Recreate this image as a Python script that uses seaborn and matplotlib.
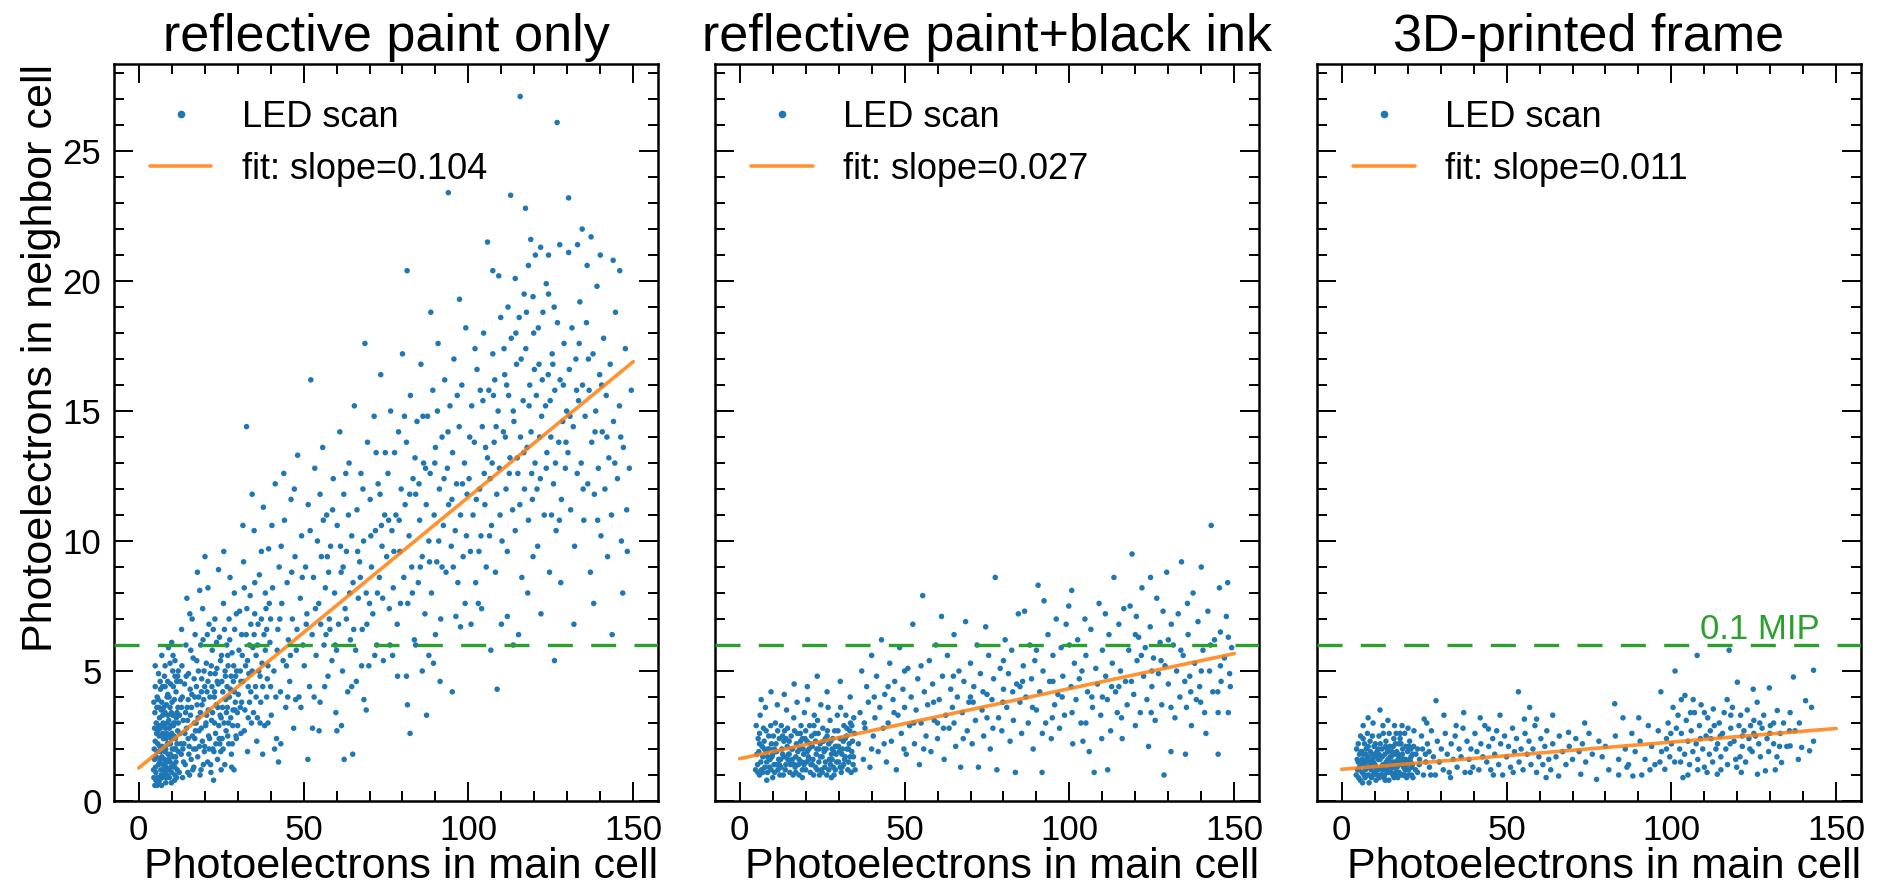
import matplotlib
matplotlib.use("Agg")
import matplotlib.pyplot as plt
import seaborn as sns
import pandas as pd
from matplotlib.lines import Line2D
from matplotlib.ticker import MultipleLocator

# ---------------- data ----------------
panel_titles = ["reflective paint only", "reflective paint+black ink", "3D-printed frame"]
fit_labels = ["fit: slope=0.104", "fit: slope=0.027", "fit: slope=0.011"]
fit_x = [0, 150]
fit_start = [1.27, 1.63, 1.22]
fit_end = [16.9, 5.67, 2.79]
mip_level = 6.0
mip_label = "0.1 MIP"
x_ticks = [0, 50, 100, 150]
y_ticks = [0, 5, 10, 15, 20, 25]
x_label = "Photoelectrons in main cell"
y_label = "Photoelectrons in neighbor cell"
scatter_label = "LED scan"

p1_points = [
    (4.6,0.9),(4.8,1.6),(5.0,2.3),(5.2,1.1),(5.3,3.0),(5.5,0.6),(5.6,1.9),(5.8,2.7),(6.0,1.4),(6.1,3.6),(6.3,0.8),(6.4,2.1),(6.6,4.3),(6.7,1.2),(6.9,2.9),(7.0,1.7),(7.2,0.9),(7.3,3.3),(7.5,2.4),(7.6,1.0),(7.8,4.8),(7.9,1.9),(8.1,2.8),(8.2,0.7),(8.4,3.7),(8.5,1.5),(8.7,2.2),(8.8,4.1),(9.0,1.2),(9.1,3.1),(9.3,0.9),(9.4,2.5),(9.6,1.8),(9.7,4.5),(9.9,3.4),(10.0,1.1),(10.2,2.0),(10.3,5.0),(10.5,2.9),(10.6,1.4),(10.8,3.9),(10.9,0.8),(11.1,2.4),(11.2,1.7),(11.4,3.2),(11.5,4.6),(11.7,1.2),(11.8,2.7),
    (4.7,2.0),(4.9,3.4),(5.1,1.3),(5.4,2.6),(5.7,0.9),(5.9,3.9),(6.2,2.5),(6.5,1.6),(6.8,3.5),(7.1,2.1),(7.4,1.4),(7.7,2.9),(8.0,1.1),(8.3,2.4),(8.6,3.0),(8.9,1.8),(9.2,4.0),(9.5,1.5),(9.8,2.9),(10.1,3.8),(10.4,1.7),(10.7,2.5),(11.0,1.0),(11.3,4.2),(11.6,2.2),(11.9,3.6),
    (4.5,1.2),(5.0,4.4),(5.5,3.6),(6.0,0.7),(6.5,2.8),(7.0,3.8),(7.5,1.2),(8.0,3.4),(8.5,2.6),(9.0,2.2),(9.5,3.6),(10.0,2.6),(10.5,4.4),(11.0,3.0),(11.5,0.9),(12.0,1.9),(4.8,2.8),(5.3,1.7),(5.8,2.2),(6.3,3.2),(6.8,1.0),(7.3,2.6),(7.8,1.6),(8.3,1.3),(8.8,3.3),(9.3,2.8),(9.8,1.3),(10.3,3.3),(10.8,2.0),(11.3,1.5),(11.8,4.8),
    (6.0,4.9),(7.0,5.6),(8.0,5.2),(9.0,5.9),(10.0,6.1),(11.0,5.4),(6.6,1.9),(7.6,3.6),(8.6,1.0),(9.6,2.2),(10.6,3.0),(11.6,3.4),(5.2,0.8),(6.9,0.6),(8.4,0.9),(9.9,0.7),(5.6,4.0),(7.2,4.4),(8.8,4.6),(10.4,5.6),(12.0,5.0),(4.6,3.8),(9.1,1.6),(10.9,1.3),(6.4,1.5),(7.9,2.5),(8.2,2.0),
    (5.0,5.2),(6.5,4.6),(8.0,4.4),(9.5,5.3),(11.0,4.8),(12.0,3.0),(4.9,0.6),(6.1,2.9),(7.4,3.0),(8.6,4.0),(9.8,2.4),(11.2,2.0),
    (12.3,1.1),(12.5,2.6),(12.7,3.9),(12.9,1.8),(13.1,5.2),(13.3,0.9),(13.5,3.1),(13.7,2.2),(13.9,4.5),(14.1,1.4),(14.3,6.0),(14.5,2.8),(14.7,3.6),(14.9,1.1),(15.1,4.9),(15.3,2.1),(15.5,7.2),(15.7,3.3),(15.9,1.6),(16.1,4.1),(16.3,2.5),(16.5,5.5),(16.7,1.3),(16.9,3.0),(17.1,6.4),(17.3,2.0),(17.5,4.4),(17.7,3.7),(17.9,1.7),(18.1,5.0),(18.3,2.7),(18.5,8.1),(18.7,3.4),(18.9,1.2),(19.1,4.7),(19.3,2.3),(19.5,6.2),(19.7,3.9),(19.9,1.9),(20.1,9.4),(20.3,2.9),(20.5,5.3),(20.7,4.2),(20.9,1.5),(21.1,3.5),(21.3,6.8),(21.5,2.4),(21.7,4.9),(21.9,1.1),(22.1,3.1),(22.3,5.8),(22.5,2.0),(22.7,0.8),(22.9,4.0),(23.1,7.0),(23.3,2.6),(23.5,3.7),(23.7,5.1),(23.9,1.6),(24.1,4.5),(24.3,2.9),(24.5,6.3),(24.7,3.3),(24.9,1.9),(25.1,5.6),(25.3,2.4),(25.5,4.2),(25.7,7.6),(25.9,3.0),(26.1,1.4),(26.3,4.8),(26.5,2.7),(26.7,6.0),(26.9,3.6),(27.1,5.2),(27.3,2.2),(27.5,4.0),(27.7,8.6),(27.9,3.2),(28.1,1.8),(28.3,5.7),(28.5,2.9),(28.7,4.6),(28.9,1.2),(29.1,6.6),(29.3,3.8),(29.5,2.5),(29.7,5.0),(29.9,3.4),
    (12.6,4.6),(13.4,2.0),(14.2,3.4),(15.0,2.4),(15.8,5.8),(16.6,2.0),(17.4,3.0),(18.2,4.0),(19.0,2.8),(19.8,5.0),(20.6,3.3),(21.4,2.0),(22.2,4.4),(23.0,3.0),(23.8,4.6),(24.6,2.2),(25.4,3.6),(26.2,5.0),(27.0,2.5),(27.8,4.3),(28.6,3.5),(29.4,4.8),(13.0,6.6),(14.6,7.8),(16.2,7.0),(17.8,8.8),(19.4,7.4),(21.0,8.2),(22.6,6.6),(24.2,8.9),(25.8,9.6),(27.4,7.0),(29.0,8.0),(15.4,1.0),(18.6,1.0),(21.8,1.4),(25.0,1.2),(28.2,1.3),(17.0,2.4),(20.0,2.1),(23.4,2.2),(26.6,3.4),(29.6,2.4),
    (12.4,3.3),(12.8,2.2),(13.2,4.0),(13.6,1.5),(14.0,2.6),(14.4,4.8),(14.8,3.1),(15.2,1.8),(15.6,4.3),(16.0,3.6),(16.4,1.2),(16.8,4.7),(17.2,2.7),(17.6,5.4),(18.0,3.2),(18.4,2.1),(18.8,6.0),(19.2,3.7),(19.6,1.4),(20.0,4.4),(20.4,3.0),(20.8,6.4),(21.2,2.5),(21.6,4.0),(22.0,5.2),(22.4,3.4),(22.8,1.9),(23.2,4.9),(23.6,6.1),(24.0,3.6),(24.4,2.4),(24.8,5.4),(25.2,4.6),(25.6,2.0),(26.0,6.6),(26.4,3.9),(26.8,4.4),(27.2,3.0),(27.6,6.2),(28.0,4.8),(28.4,2.2),(28.8,5.2),(29.2,3.5),(29.6,7.2),(30.0,2.9),(30.4,5.8),(30.8,3.6),(31.2,6.4),(31.6,4.6),(32.0,2.7),(32.4,5.2),(32.8,7.4),(33.2,4.4),(33.6,3.8),(34.0,6.8),(34.4,5.0),(34.8,3.4),(35.2,8.4),(35.6,4.0),(36.0,6.0),(36.4,5.0),(36.8,3.0),(37.2,7.0),(37.6,4.4),(38.0,6.4),(38.4,8.0),(38.8,4.0),(39.2,5.2),(39.6,7.6),(40.0,4.4),(13.0,3.6),(15.0,3.9),(17.0,4.0),(19.0,4.2),(21.0,4.6),(23.0,4.2),(25.0,3.2),(27.0,5.6),(29.0,4.2),(31.0,4.6),(33.0,5.4),(35.0,6.4),
    (30.2,4.1),(30.6,7.3),(31.0,2.6),(31.4,5.6),(31.8,9.2),(32.2,3.5),(32.6,6.4),(32.7,14.4),(33.0,1.9),(33.4,4.9),(33.8,7.9),(34.2,3.0),(34.6,5.9),(35.0,10.4),(35.4,4.4),(35.8,2.3),(36.2,6.8),(36.6,8.7),(37.0,3.8),(37.4,5.3),(37.8,11.3),(38.2,2.9),(38.6,7.4),(39.0,4.7),(39.4,9.7),(39.8,6.1),(40.2,3.3),(40.6,8.2),(41.0,5.0),(41.4,12.2),(41.8,2.4),(42.2,6.6),(42.4,1.5),(42.6,9.0),(43.0,4.2),(43.1,2.2),(43.4,7.6),(43.8,5.4),(44.2,10.8),(44.6,3.6),(45.0,8.4),(45.4,6.2),(45.8,4.6),(46.2,11.6),(46.6,7.0),(47.0,2.8),(47.4,9.4),(47.8,5.8),(48.2,13.3),(48.6,4.0),(49.0,7.8),(49.4,10.2),(49.8,6.0),
    (30.8,5.0),(32.0,8.2),(33.6,6.0),(35.2,7.2),(36.8,4.8),(38.4,5.8),(40.0,7.0),(41.6,4.0),(43.2,9.8),(44.8,5.2),(46.4,8.8),(48.0,6.6),(49.6,8.6),(31.2,3.8),(34.0,4.2),(36.0,3.2),(39.2,3.0),(42.0,5.8),(45.2,4.0),(47.6,3.9),(31.6,10.6),(34.4,11.8),(37.2,9.6),(40.4,10.6),(44.0,12.6),(47.2,12.0),(49.2,3.6),(38.8,6.6),(35.6,5.6),(42.8,7.0),(46.0,5.6),(33.2,3.2),(37.6,1.8),(41.2,2.0),
    (50.2,5.2),(50.6,9.0),(51.0,7.2),(51.4,11.4),(51.8,4.4),(52.2,16.2),(52.6,6.4),(53.0,8.6),(53.4,12.8),(53.8,5.6),(54.2,10.0),(54.6,7.6),(55.0,3.8),(55.4,9.4),(55.8,13.6),(56.2,6.0),(56.6,8.2),(57.0,11.0),(57.4,4.8),(57.8,7.0),(58.2,9.8),(58.6,5.4),(59.0,12.4),(59.4,8.0),(59.8,3.4),(60.2,10.6),(60.6,6.8),(61.0,14.2),(61.4,8.8),(61.8,5.0),(62.2,11.8),(62.6,7.4),(63.0,9.6),(63.4,4.2),(63.8,13.0),(64.2,6.2),(64.6,10.2),(65.0,8.4),(65.4,15.2),(65.8,5.8),(66.2,11.2),(66.6,7.8),(67.0,9.2),(67.4,12.6),(67.8,6.6),(68.2,10.0),(68.6,17.6),(69.0,8.0),(69.4,13.8),(69.8,5.2),(70.2,11.6),(70.6,9.0),(71.0,7.2),(71.4,14.8),(71.8,10.4),(72.2,6.0),(72.6,12.2),(73.0,8.6),(73.4,16.4),(73.8,9.8),(74.2,5.4),(74.6,11.0),
    (51.3,1.6),(52.7,2.8),(54.7,2.7),(60.1,2.7),(61.5,2.9),(62.3,1.6),(64.9,1.8),(64.6,4.4),(68.3,3.9),(69.0,3.5),(53.2,4.0),(56.0,10.8),(58.0,6.6),(63.0,7.0),(66.0,4.6),(70.0,7.6),(72.0,13.4),(74.0,7.8),(55.2,6.8),(57.6,8.8),(62.0,9.0),(67.2,8.6),(71.6,5.6),(59.6,6.0),(73.6,10.6),
    (50.8,6.8),(52.0,10.4),(53.6,7.4),(55.0,11.8),(56.4,4.4),(57.2,9.4),(58.8,11.2),(60.0,5.8),(61.2,9.8),(62.8,12.6),(64.0,8.0),(65.2,6.6),(66.4,9.6),(68.0,12.0),(69.2,6.8),(70.4,10.2),(72.4,8.0),(73.2,11.8),(74.8,13.4),(56.8,6.4),(63.6,11.0),(67.6,5.2),
    (75.2,9.4),(75.6,12.6),(76.0,7.4),(76.4,15.0),(76.8,10.4),(77.2,8.2),(77.6,13.4),(78.0,11.0),(78.4,6.8),(78.8,14.2),(79.2,9.6),(79.6,12.0),(80.0,17.2),(80.4,8.6),(80.8,11.4),(81.2,13.8),(81.6,7.6),(82.0,10.2),(82.4,15.6),(82.8,9.0),(83.2,12.4),(83.6,6.2),(84.0,11.8),(84.4,14.6),(84.8,8.4),(85.2,10.8),(85.6,16.8),(86.0,9.4),(86.4,13.0),(86.8,7.2),(87.2,11.4),(87.6,14.8),(88.0,10.0),(88.4,12.6),(88.8,8.0),(89.2,15.8),(89.6,11.0),(90.0,13.6),(90.4,9.2),(90.8,17.6),(91.2,12.0),(91.6,7.0),(92.0,14.0),(92.4,10.6),(92.8,16.2),(93.2,8.8),(93.6,12.8),(94.0,11.4),(94.4,15.2),(94.8,9.8),(95.2,13.4),(95.6,17.0),(96.0,10.4),(96.4,12.2),(96.8,8.4),(97.2,14.4),(97.6,11.0),(98.0,16.0),(98.4,9.4),(98.8,13.0),(99.2,18.2),(99.6,11.8),
    (78.5,4.8),(81.2,4.8),(86.0,5.0),(81.5,3.7),(87.3,3.3),(82.3,2.6),(91.4,4.6),(95.1,4.2),(88.0,5.6),(89.4,5.3),(97.6,6.7),(96.2,7.1),(81.4,20.4),(93.9,23.4),(97.3,19.3),(77.0,5.6),(84.0,6.0),(90.0,6.4),(99.0,7.6),(85.0,12.2),(92.0,9.0),(79.0,10.8),(95.0,11.6),(88.6,18.8),(83.0,8.0),
    (75.8,10.8),(77.4,9.6),(79.4,7.6),(80.6,14.8),(82.2,11.8),(83.8,13.2),(85.4,9.0),(87.0,12.8),(88.2,9.2),(89.8,13.0),(91.0,10.0),(92.6,12.4),(93.8,14.2),(95.4,9.0),(96.6,15.6),(98.2,12.2),(99.4,10.2),(76.2,6.0),(90.6,15.0),(86.2,14.8),
    (103.0,7.6),(108.7,4.3),(111.8,7.1),(115.2,6.4),(113.6,6.0),(126.1,5.4),(105.8,21.5),(112.8,23.3),(115.7,27.1),(117.3,22.8),(118.9,21.6),(121.9,21.3),(127.7,21.4),(120.3,21.0),(124.3,21.0),(126.9,26.1),(107.4,20.4),(109.2,20.2),(114.2,20.1),(118.2,20.6),(123.6,19.9),(116.9,19.5),(119.6,19.4),(124.3,19.5),
    (100.2,12.4),(100.6,9.6),(101.0,15.2),(101.4,11.0),(101.8,13.8),(102.2,8.4),(102.6,16.6),(103.4,12.0),(103.8,10.2),(104.2,14.4),(104.6,18.0),(105.0,11.4),(105.4,9.0),(105.8,13.2),(106.2,15.8),(106.6,12.4),(107.0,10.6),(107.4,17.2),(107.8,13.8),(108.2,8.8),(108.6,11.8),(109.0,15.0),(109.4,12.8),(109.8,18.6),(110.2,10.0),(110.6,14.2),(111.0,16.4),(111.4,12.0),(111.8,9.6),(112.2,15.6),(112.6,13.2),(113.0,17.8),(113.4,11.2),(113.8,14.6),(114.2,10.4),(114.6,16.8),(115.0,12.6),(115.4,18.6),(115.8,14.0),(116.2,8.6),(116.6,15.4),(117.0,12.0),(117.4,17.4),(117.8,13.6),(118.2,10.8),(118.6,16.0),(119.0,14.2),(119.4,11.6),(119.8,18.0),(120.2,13.0),(120.6,15.6),(121.0,9.8),(121.4,16.8),(121.8,12.4),(122.2,14.8),(122.6,18.8),(123.0,11.0),(123.4,15.2),(123.8,13.4),(124.2,16.4),(124.6,8.8),(125.0,14.0),(125.4,17.2),(125.8,12.2),(126.2,15.8),(126.6,10.4),(127.0,18.4),(127.4,13.8),(127.8,16.2),(128.2,11.6),(128.6,14.6),(129.0,17.6),(129.4,12.8),(129.8,15.0),
    (100.8,6.8),(104.0,7.4),(106.8,5.8),(110.0,6.8),(118.0,8.0),(122.0,7.2),(128.0,8.4),(102.0,17.4),(108.0,16.2),(112.0,19.0),(116.0,17.0),(120.0,16.6),(126.0,19.0),(104.4,15.4),(111.2,14.0),(119.2,12.6),(125.2,11.0),(107.2,13.0),(114.8,13.2),(121.6,14.0),
    (100.4,14.0),(102.4,11.6),(103.6,15.8),(105.2,13.6),(106.4,10.2),(108.4,14.4),(109.6,11.0),(110.8,17.4),(112.4,12.6),(113.6,15.0),(115.6,11.4),(116.8,13.4),(118.4,15.2),(119.6,9.4),(120.8,12.0),(122.4,16.2),(123.6,12.8),(124.8,15.4),(126.4,13.0),(127.6,10.8),(128.8,16.0),(129.6,13.8),(117.6,18.8),(121.2,18.2),(111.6,16.0),(104.8,12.6),(107.6,15.6),(114.4,18.0),(125.6,16.8),(103.2,9.6),
    (130.2,13.4),(130.6,16.6),(131.0,11.2),(131.4,18.2),(131.8,14.4),(132.2,9.8),(132.6,17.0),(133.0,12.6),(133.4,15.4),(133.8,19.2),(134.2,13.0),(134.6,16.0),(135.0,10.8),(135.4,14.8),(135.8,18.4),(136.2,12.2),(136.6,15.8),(137.0,8.8),(137.4,13.8),(137.8,17.2),(138.2,11.8),(138.6,15.0),(139.0,19.8),(139.4,12.8),(139.8,16.4),(140.2,10.2),(140.6,14.2),(141.0,17.8),(141.4,12.0),(141.8,15.6),(142.2,9.4),(142.6,13.2),(143.0,16.8),(143.4,11.0),(144.0,14.6),(144.6,18.8),(145.2,12.4),(145.8,15.2),(146.4,10.0),(147.0,13.6),(147.6,17.4),(148.2,9.6),(148.8,12.8),(149.4,15.8),(136.0,20.6),(140.0,21.0),(132.0,6.8),(138.0,7.6),(143.6,6.4),(146.8,8.0),
    (130.4,23.2),(134.5,22.0),(137.2,21.7),(133.1,21.4),(130.4,21.1),(143.9,20.8),(145.9,20.4),
    (130.8,14.8),(132.8,15.8),(134.8,12.0),(136.4,17.0),(138.4,14.2),(140.4,16.0),(142.0,14.0),(144.4,13.0),(146.2,14.0),(148.0,11.2),(133.6,17.6),(139.2,10.8),
]

p2_points = [
    (4.8,1.2),(5.2,1.8),(5.6,2.4),(6.0,1.0),(6.4,1.5),(6.8,2.1),(7.2,2.8),(7.6,1.3),(8.0,1.9),(8.4,1.1),(8.8,2.5),(9.2,1.6),(9.6,2.2),(10.0,0.9),(10.4,1.4),(10.8,3.0),(11.2,1.9),(11.6,1.2),(12.0,2.4),(12.4,1.6),(12.8,2.0),(13.2,1.0),(13.6,2.7),(14.0,1.4),(14.4,2.1),(14.8,1.8),(15.2,1.1),(15.6,2.5),(16.0,1.6),(16.4,3.2),(16.8,1.3),(17.2,2.2),(17.6,1.9),(18.0,1.0),(18.4,2.6),(18.8,1.5),(19.2,2.0),(19.6,3.4),(20.0,1.2),(20.4,2.3),(20.8,1.7),(21.2,2.9),(21.6,1.4),(22.0,2.1),(22.4,1.0),(22.8,2.6),(23.2,1.8),(23.6,3.1),(24.0,1.5),(24.4,2.2),(24.8,1.2),(25.2,2.8),(25.6,1.9),(26.0,2.4),(26.4,1.0),(26.8,3.6),(27.2,1.6),(27.6,2.3),(28.0,2.0),(28.4,1.3),(28.8,2.7),(29.2,1.8),(29.6,3.3),(30.0,1.5),(30.4,2.4),(30.8,1.1),(31.2,2.0),(31.6,2.9),(32.0,1.7),(32.4,2.5),(32.8,1.2),(33.2,2.2),(33.6,3.0),(34.0,1.9),(34.4,1.4),(34.8,2.6),
    (5.0,2.9),(5.4,1.4),(5.8,1.9),(6.2,3.3),(6.6,1.2),(7.0,1.7),(7.4,2.3),(7.8,3.6),(8.2,1.5),(8.6,2.0),(9.0,1.3),(9.4,2.9),(9.8,1.7),(10.2,2.5),(10.6,1.1),(11.0,2.2),(11.4,3.7),(11.8,1.6),(12.2,1.0),(12.6,2.9),(13.0,1.8),(13.4,2.3),(13.8,1.2),(14.2,3.5),(14.6,1.6),(15.0,2.3),(15.4,1.4),(15.8,2.0),(16.2,1.0),(16.6,2.7),(17.0,1.7),(17.4,3.8),(17.8,1.4),(18.2,2.0),(18.6,2.9),(19.0,1.2),(19.4,1.8),(19.8,2.4),(20.2,1.5),(20.6,3.9),(21.0,2.0),(21.4,1.1),(21.8,2.5),(22.2,1.6),(22.6,3.3),(23.0,1.3),(23.4,2.0),(23.8,2.6),(24.2,1.0),(24.6,3.7),(25.0,1.7),(25.4,2.3),(25.8,1.3),(26.2,2.0),(26.6,2.7),(27.0,1.2),(27.4,3.1),(27.8,1.8),(28.2,2.4),(28.6,1.0),(29.0,2.1),(29.4,1.5),(29.8,2.7),(30.2,1.9),(30.6,3.6),(31.0,1.3),(31.4,2.3),(31.8,1.6),(32.2,3.3),(32.6,2.0),(33.0,1.5),(33.4,2.7),(33.8,1.1),(34.2,2.3),(34.6,3.2),
    (6.0,2.2),(8.0,2.7),(10.0,1.8),(12.0,1.4),(14.0,2.4),(16.0,2.0),(18.0,1.6),(20.0,2.7),(22.0,1.4),(24.0,2.0),(26.0,1.5),(28.0,1.6),(30.0,2.1),(32.0,2.4),(34.0,2.9),(7.0,1.1),(9.0,2.0),(11.0,1.4),(13.0,2.5),(15.0,1.8),(17.0,1.1),(19.0,2.4),(21.0,1.6),(23.0,2.3),(25.0,1.1),(27.0,2.2),(29.0,1.2),(31.0,1.8),(33.0,2.0),(6.5,3.9),(9.5,4.2),(13.5,4.1),(16.5,4.5),(20.5,4.4),(23.5,4.8),(26.5,4.2),(30.5,4.6),(33.5,4.0),(8.2,0.8),(19.0,0.9),(27.8,0.9),(35.0,1.2),(36.0,2.2),
    (5.5,1.1),(7.5,2.0),(9.5,1.2),(11.5,2.7),(13.5,1.7),(15.5,1.5),(17.5,2.6),(19.5,1.4),(21.5,2.2),(23.5,1.2),(25.5,2.0),(27.5,1.4),(29.5,2.1),(31.5,1.4),(33.5,1.7),(6.0,2.6),(8.5,1.7),(10.5,2.0),(12.5,1.3),(14.5,2.8),(16.5,1.4),(18.5,2.3),(20.5,1.9),(22.5,2.9),(24.5,1.7),(26.5,2.5),(28.5,1.9),(30.5,1.3),(32.5,2.8),(34.5,1.7),
    (36.5,3.4),(37.0,5.0),(37.5,1.6),(38.0,2.8),(38.5,4.4),(39.0,3.8),(39.5,1.3),(40.0,5.6),(40.5,2.5),(41.0,3.2),(41.5,4.8),(42.0,1.9),(42.5,3.6),(43.0,6.2),(43.5,2.8),(44.0,4.1),(44.5,1.5),(45.0,3.0),(45.5,5.3),(46.0,2.3),(46.5,3.9),(47.0,4.6),(47.5,1.2),(48.0,3.3),(48.5,5.9),(49.0,2.6),(49.5,4.3),(50.0,3.6),(50.5,1.8),(51.0,5.1),(51.5,2.9),(52.0,4.0),(52.5,6.8),(53.0,2.2),(53.5,3.5),(54.0,4.7),(54.5,1.4),(55.0,3.0),(55.5,7.9),(56.0,4.2),(56.5,2.5),(57.0,3.7),(57.5,5.4),(58.0,1.9),(58.5,4.5),(59.0,3.1),(59.5,6.0),(60.0,2.4),(60.5,3.9),(61.2,7.1),(61.5,4.8),(62.0,1.6),(62.5,3.3),(63.0,5.6),(63.5,2.8),(64.0,4.3),(64.5,3.6),(65.0,6.4),(65.5,2.1),(66.0,4.0),(66.5,5.0),(67.0,1.3),(67.5,3.4),(68.0,4.6),(68.5,6.9),(69.0,2.7),(69.5,3.8),(70.0,5.3),(70.5,2.2),(71.0,4.4),(71.5,3.1),(72.0,6.0),(72.4,1.3),(73.0,4.9),(73.5,3.5),(74.0,2.5),(74.6,6.7),(75.0,4.1),(75.5,5.6),(76.0,2.0),(76.5,3.9),(77.0,4.7),(77.5,8.6),(78.0,1.2),(78.5,3.2),(79.0,5.1),(79.5,2.7),(80.0,4.3),(80.5,6.2),(81.0,3.6),(81.5,4.9),(82.0,2.3),(82.5,5.8),(83.0,3.1),(83.6,1.1),(84.0,4.5),(84.5,7.2),(85.0,3.8),(85.5,2.6),(86.4,7.3),(86.0,5.2),(86.8,4.0),(87.5,3.0),(88.0,6.0),(88.5,4.7),(89.0,2.0),(89.5,5.4),(90.0,3.5),(90.5,8.3),(91.0,4.2),(91.7,1.1),(92.3,7.7),(92.0,5.0),(92.8,3.0),(93.5,6.4),(94.0,4.6),(94.5,2.4),(95.0,5.6),(95.5,3.7),(96.0,7.0),(96.5,4.1),(97.0,2.8),(97.5,5.9),(98.0,4.8),(98.5,3.3),(99.0,6.8),(99.8,7.5),(100.7,8.1),(100.5,4.4),(101.0,2.2),(101.5,5.3),(102.0,3.9),(102.5,6.2),(103.0,4.7),(103.5,3.0),(104.1,2.3),(104.7,7.0),(105.0,5.6),(105.5,4.2),(106.0,1.9),(106.5,6.6),(107.0,3.6),(107.5,1.1),(108.0,5.1),(108.5,4.5),(109.0,7.6),(109.5,3.3),(110.0,5.8),(110.9,7.2),(111.6,1.2),(111.0,4.8),(111.5,3.9),(112.0,6.4),(112.5,2.7),(113.0,5.3),(113.5,8.6),(114.0,4.2),(114.5,3.4),(115.0,6.8),(115.5,5.0),(116.0,2.4),(116.5,7.4),(117.0,4.6),(117.5,3.7),(118.4,7.5),(118.0,5.8),(119.0,9.5),(119.5,4.1),(120.3,7.1),(120.0,2.9),(120.5,5.4),(121.0,6.3),(121.5,3.4),(122.0,8.2),(122.5,4.8),(123.0,5.9),(124.0,2.1),(123.5,3.9),(124.6,8.6),(124.5,6.7),(125.0,4.4),(125.5,5.5),(126.0,3.1),(126.5,7.8),(127.0,4.9),(127.5,6.1),(128.4,7.3),(128.7,1.0),(128.0,3.7),(129.0,5.2),(129.5,8.8),(130.0,4.5),(130.8,1.9),(130.9,6.8),(131.5,6.0),(132.0,3.2),(132.5,5.0),(133.0,7.2),(133.5,4.0),(134.0,9.2),(134.5,5.6),(135.2,1.8),(135.8,7.6),(135.5,3.6),(136.0,6.4),(137.0,2.9),(136.5,4.8),(137.5,8.0),(138.0,5.3),(138.5,3.9),(139.0,6.9),(139.5,4.4),(140.0,9.0),(140.5,5.8),(141.4,2.6),(141.0,3.4),(142.0,7.3),(142.5,5.0),(143.0,10.6),(143.5,4.2),(144.0,6.2),(145.1,3.4),(145.1,1.8),(145.8,6.5),(145.5,8.2),(146.0,4.6),(147.6,7.1),(147.0,5.5),(148.2,6.3),(148.2,3.4),(148.0,8.4),(148.6,4.9),(149.2,5.9),
    (37.8,3.0),(40.8,4.0),(43.8,2.2),(46.8,3.4),(49.8,2.0),(52.8,3.0),(55.8,2.0),(58.8,3.8),(61.8,2.8),(64.8,4.8),(67.8,2.4),(70.8,3.8),(73.8,4.2),(76.8,2.8),(79.8,3.8),(82.8,4.2),(85.8,4.6),(88.8,3.6),(91.8,2.6),(94.8,3.2),(97.8,4.0),(100.8,3.4),(103.8,5.0),(106.8,4.0),(109.8,2.4),(112.8,4.4),(115.8,3.2),(118.8,4.6),(121.8,5.6),(124.8,3.4),(127.8,5.4),(130.8,3.6),(133.8,5.8),(136.8,4.2),(139.8,3.8),(142.8,6.0),(145.8,5.2),(148.8,4.4),(40.0,2.0),(45.0,4.4),(50.0,5.0),(55.0,5.2),(60.0,3.0),(65.0,3.0),(70.0,4.0),(75.0,3.2),(80.0,5.4),(85.0,4.4),(90.0,5.8),(95.0,4.6),(100.0,6.0),(105.0,3.0),(110.0,4.0),(115.0,4.4),(120.0,6.4),(125.0,5.0),(130.0,6.2),(135.0,4.6),(140.0,5.0),(145.0,4.2),
]

p3_points = [
    (4.4,1.0),(4.7,1.6),(5.0,2.2),(5.3,1.3),(5.6,0.8),(5.9,1.9),(6.2,1.1),(6.5,2.4),(6.8,1.5),(7.1,0.9),(7.4,2.0),(7.7,1.3),(8.0,1.7),(8.3,0.7),(8.6,2.3),(8.9,1.2),(9.2,1.8),(9.5,1.0),(9.8,2.1),(10.1,1.4),(10.4,0.8),(10.7,1.9),(11.0,1.2),(11.3,2.5),(11.6,1.6),(11.9,1.0),(12.2,2.0),(12.5,1.4),(12.8,0.9),(13.1,1.8),(13.4,2.3),(13.7,1.2),(14.0,1.6),(14.3,0.8),(14.6,2.1),(14.9,1.3),(15.2,1.9),(15.5,1.0),(15.8,2.4),(16.1,1.5),(16.4,1.1),(16.7,1.9),(17.0,0.9),(17.3,2.2),(17.6,1.4),(17.9,1.7),(18.2,1.0),(18.5,2.0),(18.8,1.3),(19.1,2.6),(19.4,1.6),(19.7,0.9),(20.0,1.9),(20.3,1.2),(20.6,2.3),(20.9,1.5),(21.2,1.0),(21.5,1.8),(21.8,2.1),
    (4.5,2.0),(4.8,1.2),(5.1,0.9),(5.4,1.8),(5.7,2.5),(6.0,1.4),(6.3,0.7),(6.6,1.8),(6.9,2.2),(7.2,1.2),(7.5,1.6),(7.8,2.6),(8.1,1.0),(8.4,1.5),(8.7,1.9),(9.0,0.9),(9.3,2.5),(9.6,1.5),(9.9,1.1),(10.2,2.2),(10.5,1.7),(10.8,1.0),(11.1,1.6),(11.4,0.9),(11.7,2.2),(12.0,1.3),(12.3,1.7),(12.6,2.6),(12.9,1.2),(13.2,0.8),(13.5,1.5),(13.8,2.0),(14.1,1.1),(14.4,2.6),(14.7,1.7),(15.0,1.1),(15.3,1.5),(15.6,2.1),(15.9,0.9),(16.2,1.8),(16.5,2.6),(16.8,1.3),(17.1,1.6),(17.4,1.1),(17.7,2.4),(18.0,1.5),(18.3,2.9),(18.6,1.0),(18.9,1.6),(19.2,1.2),(19.5,2.1),(19.8,1.4),(20.1,2.8),(20.4,1.0),(20.7,1.6),(21.0,2.0),(21.3,1.3),(21.6,0.9),
    (5.0,1.5),(6.0,1.9),(7.0,1.4),(8.0,2.1),(9.0,1.4),(10.0,1.8),(11.0,2.0),(12.0,1.0),(13.0,1.4),(14.0,1.9),(15.0,1.7),(16.0,1.3),(17.0,1.8),(18.0,2.2),(19.0,1.0),(20.0,1.5),(21.0,1.7),(6.5,2.9),(9.5,3.0),(11.6,3.5),(14.0,3.1),(17.7,2.6),(21.9,2.7),(8.0,3.2),(12.5,2.9),(16.0,2.9),
    (5.2,1.2),(6.2,1.6),(7.3,1.8),(8.2,1.3),(9.3,1.6),(10.3,1.3),(11.3,1.8),(12.4,1.2),(13.3,2.1),(14.3,1.4),(15.4,1.3),(16.3,2.2),(17.3,1.5),(18.4,1.8),(19.3,1.4),(20.4,2.1),(21.4,1.4),(22.5,1.8),(23.5,1.4),(24.5,2.0),(25.5,1.5),(26.5,1.9),(6.8,1.0),(10.0,1.1),(13.0,1.0),(16.6,1.0),(19.6,1.2),(23.0,1.1),
    (22.4,1.2),(23.0,2.0),(23.6,1.6),(24.2,2.5),(24.8,1.0),(25.0,3.15),(25.4,1.8),(26.0,2.2),(26.6,1.3),(27.2,2.7),(27.8,1.7),(28.4,1.0),(28.6,3.86),(29.0,2.3),(29.6,1.5),(30.2,2.0),(30.8,1.2),(31.4,2.6),(32.0,1.8),(32.6,1.1),(33.2,2.2),(33.8,1.6),(34.4,2.5),(34.7,2.9),(35.0,1.3),(35.6,2.0),(36.2,1.7),(36.8,2.8),(37.4,1.1),(38.0,2.3),(38.6,1.6),(39.2,2.0),(39.8,1.3),(40.4,2.6),(41.0,1.9),(41.6,1.2),(42.2,2.2),(42.8,1.7),(43.4,2.9),(44.0,1.5),(44.5,2.77),(44.6,2.1),(45.2,1.2),(45.8,2.4),(46.4,1.8),(47.0,2.7),(47.6,1.4),(48.2,2.2),(48.8,1.0),(49.4,2.5),(50.0,1.7),(50.6,2.1),(51.2,1.3),(51.8,2.8),(52.4,1.9),(53.0,2.4),(53.6,4.2),(53.8,1.5),(54.4,2.0),(55.4,3.15),(55.0,1.2),(55.6,2.6),(56.2,1.8),(56.8,2.3),(57.4,1.4),(58.0,2.0),(58.6,2.9),(59.1,3.15),(59.1,1.1),(59.8,1.7),(60.4,2.4),(61.0,1.4),(61.6,2.1),(62.2,2.7),(62.8,1.6),(63.4,1.2),(64.0,2.2),(65.0,1.7),(65.8,0.96),(66.0,2.5),(67.0,1.9),(68.0,1.4),(68.8,2.64),(69.0,2.1),(70.0,1.6),(71.0,2.4),(72.0,1.9),(72.5,1.03),(73.0,2.2),(73.7,3.0),(74.0,1.5),(75.0,2.6),(76.0,1.8),(77.3,0.83),(78.0,2.3),(79.0,1.7),(80.0,2.1),(25.8,3.0),(31.0,3.3),(37.0,3.4),(42.0,3.2),(48.0,3.3),(57.0,3.6),(64.0,3.3),(27.0,1.0),(33.0,0.9),(39.0,1.1),(46.0,1.0),(52.0,1.1),(62.0,0.9),
    (81.0,1.2),(82.8,3.74),(83.0,2.5),(84.0,1.6),(85.3,3.2),(86.0,2.0),(87.0,1.4),(88.3,0.96),(88.0,2.6),(89.0,1.9),(90.1,3.2),(90.5,2.3),(92.0,1.6),(93.0,2.9),(94.0,2.1),(95.0,1.4),(96.0,2.7),(96.8,4.2),(97.0,1.9),(98.0,1.22),(98.5,2.4),(99.0,3.0),(99.5,1.7),(100.5,3.6),(100.0,2.2),(101.1,5.0),(101.0,1.5),(101.5,2.8),(102.0,3.3),(102.5,2.0),(103.5,0.9),(103.0,2.6),(104.1,4.06),(104.0,1.8),(104.5,3.1),(105.0,2.3),(105.5,1.4),(106.6,3.9),(106.0,2.7),(106.5,1.9),(107.8,5.6),(107.0,3.4),(107.5,2.2),(108.0,1.6),(108.5,2.9),(109.0,3.7),(109.5,2.0),(110.0,1.3),(110.5,2.5),(111.0,3.2),(111.5,1.8),(112.7,3.54),(112.0,2.4),(112.5,1.5),(113.0,2.9),(113.9,1.03),(114.0,2.2),(114.5,3.0),(115.0,1.7),(115.5,2.6),(116.0,3.4),(116.9,3.9),(116.5,2.0),(117.5,5.8),(117.0,1.4),(118.0,2.8),(118.5,3.6),(119.0,2.3),(119.5,1.6),(120.0,4.57),(120.5,2.9),(121.2,1.1),(121.0,3.3),(121.5,2.1),(122.0,2.7),(122.5,1.5),(123.0,3.5),(123.5,2.4),(124.0,2.9),(124.8,4.3),(124.5,1.9),(125.0,3.1),(125.5,2.5),(126.1,1.03),(126.0,3.8),(126.5,2.2),(127.0,1.7),(127.5,2.8),(128.5,1.16),(128.0,3.3),(129.0,2.4),(129.7,4.35),(129.5,1.9),(130.0,2.9),(131.0,2.2),(132.1,3.48),(132.0,1.7),(133.4,1.48),(133.0,2.6),(134.0,3.0),(135.0,2.1),(136.0,3.4),(136.0,2.12),(137.0,4.77),(137.5,2.7),(139.5,2.06),(140.7,3.86),(141.9,1.93),(142.5,3.6),(143.1,5.03),(143.1,2.3),(138.5,1.6),(131.5,1.2),(119.8,1.3),(110.8,1.1),(105.0,1.0),(84.0,1.0),(86.5,1.3),(91.0,1.0),(93.5,1.2),
    (96.5,1.5),(99.8,2.6),(102.8,1.5),(105.8,3.4),(108.8,2.4),(111.8,2.7),(114.8,2.5),(117.8,2.2),(120.8,1.7),(123.8,2.0),(126.8,3.0),(129.8,2.6),(132.8,2.1),(135.8,2.7),(138.8,3.0),(103.0,3.9),(110.0,3.4),(118.0,3.3),(125.0,2.6),(131.0,3.0),(115.0,1.2),(108.0,1.2),(98.5,2.0),(113.5,2.0),(121.5,2.5),
]
all_points = [p1_points, p2_points, p3_points]

# ---------------- style ----------------
sns.set_style("ticks")
plt.rcParams['font.family'] = ['Liberation Sans', 'DejaVu Sans']
for key in ["text.color", "axes.labelcolor", "xtick.color", "ytick.color", "axes.edgecolor"]:
    plt.rcParams[key] = "black"

BLUE = "#1f77b4"
ORANGE = "#ff7f0e"
GREEN = "#2ca02c"

W, H = 1888, 891
fig = plt.figure(figsize=(W / 100, H / 100), dpi=100)
ax_lefts = [114, 715, 1317]
ax_w, ax_top, ax_bot = 544, 64, 801
axes = []
for i in range(3):
    ax = fig.add_axes([ax_lefts[i] / W, (H - ax_bot) / H, ax_w / W, (ax_bot - ax_top) / H])
    axes.append(ax)

for i, ax in enumerate(axes):
    df = pd.DataFrame(all_points[i], columns=["main", "neighbor"])
    sns.scatterplot(data=df, x="main", y="neighbor", ax=ax, s=16, color=BLUE,
                    linewidth=0, edgecolor="none", legend=False, zorder=2)
    fit_df = pd.DataFrame({"x": fit_x, "y": [fit_start[i], fit_end[i]]})
    sns.lineplot(data=fit_df, x="x", y="y", ax=ax, color=ORANGE, lw=2.6, alpha=0.85, zorder=3)
    ax.axhline(mip_level, color=GREEN, lw=2.4, ls=(0, (7.5, 5.5)), zorder=4)

    ax.set_xlim(-7.5, 157.5)
    ax.set_ylim(0, 28.35)
    ax.set_xticks(x_ticks)
    ax.set_yticks(y_ticks)
    ax.xaxis.set_minor_locator(MultipleLocator(10))
    ax.yaxis.set_minor_locator(MultipleLocator(1))
    ax.tick_params(which="both", direction="in", top=True, right=True,
                   labelsize=25, width=1.4, pad=9, colors="black")
    ax.tick_params(which="major", length=14)
    ax.tick_params(which="minor", length=7.5)
    for s in ax.spines.values():
        s.set_linewidth(1.8)
        s.set_color("black")

    ax.set_title(panel_titles[i], fontsize=37.5, pad=9, color="black")
    ax.set_xlabel(x_label, fontsize=31, loc="right", color="black")
    ax.xaxis.set_label_coords(1.0, -0.062)
    if i == 0:
        ax.set_ylabel(y_label, fontsize=31, loc="top", color="black")
        ax.yaxis.set_label_coords(-0.098, 1.0)
    else:
        ax.set_ylabel("")
        ax.tick_params(axis="y", which="both", labelleft=False)

    handles = [Line2D([], [], marker="o", ls="", color=BLUE, markersize=5.5, markeredgewidth=0),
               Line2D([], [], color=ORANGE, lw=2.6, alpha=0.85)]
    leg = ax.legend(handles, [scatter_label, fit_labels[i]], loc="upper left", frameon=False,
                    fontsize=26, handlelength=1.7, handletextpad=0.85, labelspacing=0.47,
                    borderaxespad=0.5, borderpad=0.5)
    for t in leg.get_texts():
        t.set_color("black")

axes[2].text(145, 6.25, mip_label, color=GREEN, fontsize=25, ha="right", va="baseline")

fig.savefig("out.png", dpi=100)
